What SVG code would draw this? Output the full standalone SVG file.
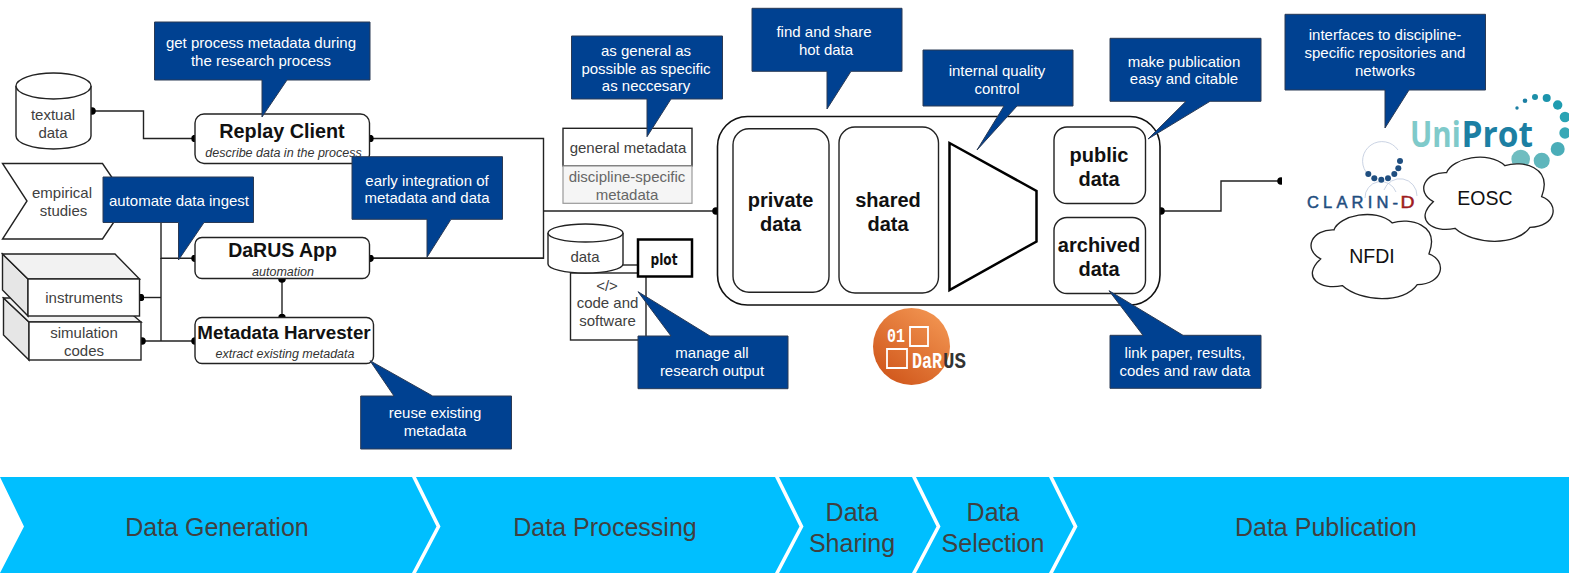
<svg xmlns="http://www.w3.org/2000/svg" xmlns:xlink="http://www.w3.org/1999/xlink" width="1569" height="573" viewBox="0 0 1569 573">
<style>
text{font-family:"Liberation Sans",Arial,sans-serif;text-anchor:middle}
.b{fill:#fff;stroke:#222;stroke-width:1.4}
.l{fill:#404040;font-size:15px}
.h{fill:#111;font-weight:bold}
.s{fill:#333;font-style:italic;font-size:12.5px}
.big{fill:#111;font-weight:bold;font-size:20px}
.c{fill:#004191;stroke:#2a3a55;stroke-width:1}
.ct{fill:#fff;font-size:15px}
.con{fill:none;stroke:#222;stroke-width:1.4}
.band{fill:#00bfff}
.bt{fill:#404040;font-size:25px}
.cl{fill:#fff;stroke:#222;stroke-width:4}
.logo{font-family:"Liberation Mono",monospace;font-weight:bold;text-anchor:start}
.up{font-family:"Open Sans","Liberation Sans",sans-serif;font-weight:bold;font-size:36px;text-anchor:start}
.cd{font-size:16.5px;text-anchor:start;stroke-width:.5}
</style>
<defs>
<marker id="dot" viewBox="0 0 8 8" refX="4" refY="4" markerWidth="7.5" markerHeight="7.5" markerUnits="userSpaceOnUse"><circle cx="4" cy="4" r="4" fill="#000"/></marker>
<linearGradient id="og" x1="0.8" y1="0.1" x2="0.2" y2="0.9"><stop offset="0" stop-color="#f0914e"/><stop offset="1" stop-color="#d25a1e"/></linearGradient>
<path id="cloud" d="M1000,605C945,575 975,515 1040,518C1055,475 1165,450 1215,497C1265,480 1360,500 1325,590C1380,610 1370,680 1290,682C1250,740 1120,735 1065,685C1000,700 940,660 1000,605Z"/>
</defs>
<rect width="1569" height="573" fill="#fff"/>

<g id="connectors">
<path class="con" marker-start="url(#dot)" marker-end="url(#dot)" d="M92,111H143.500V138.500H195"/>
<path class="con" marker-start="url(#dot)" d="M370,138.500H543.500V258.300H370"/>
<path class="con" marker-start="url(#dot)" d="M370,258.300H543.500"/>
<path class="con" marker-end="url(#dot)" d="M543.500,211H716"/>
<path class="con" marker-end="url(#dot)" d="M161,222V258.300H195"/>
<path class="con" marker-start="url(#dot)" d="M140.500,297.500H161"/>
<path class="con" d="M161,258V341"/>
<path class="con" marker-start="url(#dot)" marker-end="url(#dot)" d="M142,341H195"/>
<path class="con" marker-start="url(#dot)" marker-end="url(#dot)" d="M282,279V317.500"/>
<path class="con" marker-start="url(#dot)" marker-end="url(#dot)" d="M1161,211H1221V181H1281"/>
<path class="con" d="M623,265H638"/>
</g>

<g id="textual-data">
<path class="b" d="M16,86V136A37.500,13 0 0 0 91,136V86"/>
<ellipse class="b" cx="53.500" cy="86" rx="37.500" ry="13"/>
<text class="l" x="53" y="120">textual</text><text class="l" x="53" y="137.500">data</text>
</g>
<g id="empirical-studies">
<path class="b" d="M2.500,163.500H102.500L128,201L102.500,239H2.500L27,201Z"/>
<text class="l" x="62" y="198">empirical</text><text class="l" x="63.500" y="215.500">studies</text>
</g>
<g id="simulation-codes">
<path d="M3.500,298L29,322V360L3.500,335Z" fill="#e6e6e6" stroke="#222" stroke-width="1.400"/>
<path d="M3.500,298H113L141,322H29Z" fill="#f2f2f2" stroke="#222" stroke-width="1.400"/>
<rect class="b" x="29" y="322" width="112" height="38"/>
<text class="l" x="84" y="338">simulation</text><text class="l" x="84" y="356">codes</text>
</g>
<g id="instruments">
<path d="M2.500,254L28,279V316L2.500,290Z" fill="#e6e6e6" stroke="#222" stroke-width="1.400"/>
<path d="M2.500,254H115L139.500,279H28Z" fill="#f2f2f2" stroke="#222" stroke-width="1.400"/>
<rect class="b" x="28" y="279" width="111.500" height="37"/>
<text class="l" x="84" y="303">instruments</text>
</g>
<g id="replay-client">
<rect class="b" x="195" y="114" width="174.500" height="49.500" rx="9"/>
<text class="h" x="282" y="138" font-size="19.800">Replay Client</text>
<text class="s" x="283.500" y="156.500">describe data in the process</text>
</g>
<g id="darus-app">
<rect class="b" x="195" y="237.500" width="174.500" height="41" rx="7"/>
<text class="h" x="282.500" y="257" font-size="19.500">DaRUS App</text>
<text class="s" x="283" y="275.500">automation</text>
</g>
<g id="metadata-harvester">
<rect class="b" x="195" y="317.500" width="178.500" height="46" rx="7"/>
<text class="h" x="284" y="339" font-size="18.800">Metadata Harvester</text>
<text class="s" x="285" y="358">extract existing metadata</text>
</g>
<g id="metadata">
<rect class="b" x="563" y="128.300" width="129" height="37.700"/>
<rect x="563" y="166" width="129" height="37.300" fill="#f5f5f5" stroke="#999" stroke-width="1.200"/>
<text class="l" x="628" y="153">general metadata</text>
<text x="627" y="182" font-size="15" fill="#666">discipline-specific</text>
<text x="627" y="200" font-size="15" fill="#666">metadata</text>
</g>
<g id="code-software">
<rect class="b" x="570.500" y="273" width="75.500" height="67"/>
<text class="l" x="607" y="291">&lt;/&gt;</text><text class="l" x="607.500" y="308">code and</text><text class="l" x="607.500" y="326">software</text>
</g>
<g id="data">
<path class="b" d="M548,233V264A37.500,9 0 0 0 623,264V233"/>
<ellipse class="b" cx="585.500" cy="233" rx="37.500" ry="9"/>
<text class="l" x="585" y="262">data</text>
</g>
<g id="plot">
<rect x="638" y="239.500" width="54" height="37" fill="#fff" stroke="#000" stroke-width="2.500"/>
<text x="664" y="265" font-size="15" font-weight="bold" fill="#111" style="font-family:'DejaVu Sans',sans-serif" textLength="27" lengthAdjust="spacingAndGlyphs">plot</text>
</g>
<g id="repository">
<rect x="717.500" y="116.500" width="442.500" height="188.500" rx="30" fill="#fff" stroke="#111" stroke-width="1.600"/>
</g>
<g id="private-data">
<rect class="b" x="733" y="128.700" width="96" height="163.600" rx="16"/>
<text class="big" x="780.500" y="207">private</text><text class="big" x="780.500" y="231">data</text>
</g>
<g id="shared-data">
<rect class="b" x="839" y="127" width="99.500" height="166" rx="16"/>
<text class="big" x="888" y="207">shared</text><text class="big" x="888" y="231">data</text>
</g>
<g id="quality-gate"><path d="M949.500,143L1036.500,191V241.500L949.500,290Z" fill="#fff" stroke="#000" stroke-width="2.500"/></g>
<g id="public-data">
<rect class="b" x="1054" y="127" width="91.500" height="76.500" rx="13"/>
<text class="big" x="1099" y="162">public</text><text class="big" x="1099" y="186">data</text>
</g>
<g id="archived-data">
<rect class="b" x="1054" y="217.500" width="91.500" height="76" rx="13"/>
<text class="big" x="1099" y="252">archived</text><text class="big" x="1099" y="276">data</text>
</g>
<g id="darus-logo">
<circle cx="911.500" cy="346.500" r="38.500" fill="url(#og)"/>
<path d="M910,327H928V346H910ZM887,349H907V368H887Z" fill="none" stroke="#fff" stroke-width="1.800"/>
<text class="logo" font-size="20" fill="#fff" transform="translate(887 342) scale(.75 1)">01</text>
<text class="logo" font-size="22" fill="#fff" transform="translate(912 368) scale(.76 1)">DaR</text>
<text class="logo" font-size="22" fill="#333" transform="translate(943 368) scale(.87 1)">US</text>
</g>
<g id="uniprot-logo">
<text class="up" fill="#7fcaca" transform="translate(1410 146.500) scale(.82 1)">Uni</text>
<text class="up" fill="#1c7fa3" transform="translate(1461.500 146.500) scale(.93 1)">Prot</text>
<g>
<circle cx="1517" cy="108" r="1.700" fill="#1c7fa3"/><circle cx="1525" cy="100.700" r="2.300" fill="#1c7fa3"/><circle cx="1535" cy="97" r="3" fill="#1c8fa8"/><circle cx="1546.700" cy="98" r="4" fill="#1c94ac"/><circle cx="1557.700" cy="105" r="4.700" fill="#1f9cb0"/><circle cx="1565" cy="117" r="5.300" fill="#2aa4b4"/><circle cx="1565" cy="133" r="5.700" fill="#38a8b6"/><circle cx="1557.700" cy="149" r="7" fill="#4aadb8"/><circle cx="1541.700" cy="160.700" r="8" fill="#5fb6bc"/><circle cx="1520.700" cy="159" r="9.300" fill="#6fbdc0"/>
</g>
</g>
<g id="clarin-logo">
<rect x="1282" y="150" width="125" height="90" fill="#fff"/>
<g fill="none" stroke="#bcc8dc" stroke-width="0.800"><path d="M1366,172A19,19 0 0 1 1398,150"/><path d="M1365,198A16,16 0 0 1 1396,192"/><path d="M1384,190A17,17 0 0 1 1417,196"/></g>
<g fill="#1f4e80"><circle cx="1400" cy="161" r="3"/><circle cx="1398.300" cy="168.300" r="3"/><circle cx="1394.300" cy="174" r="3"/><circle cx="1388" cy="178.300" r="3"/><circle cx="1381.300" cy="179.700" r="3"/><circle cx="1374.300" cy="178.300" r="3"/><circle cx="1368.300" cy="174" r="3"/></g>
<text class="cd" x="1307" y="208.300" textLength="91" lengthAdjust="spacing" fill="#1f4e80" stroke="#1f4e80">CLARIN-</text>
<text class="cd" x="1400.500" y="208.300" fill="#9e1b20" stroke="#9e1b20" textLength="14" lengthAdjust="spacingAndGlyphs">D</text>
</g>
<g id="eosc">
<use xlink:href="#cloud" href="#cloud" class="cl" transform="translate(1100 0) scale(.3333)"/>
<text x="1485" y="205" font-size="19.500" fill="#111">EOSC</text>
</g>
<g id="nfdi">
<use xlink:href="#cloud" href="#cloud" class="cl" transform="translate(987.300 57.300) scale(.3333)"/>
<text x="1372" y="263" font-size="19.500" fill="#111">NFDI</text>
</g>

<g id="callouts">
<g><path class="c" d="M154.500,22H370V80H287L262,117V80H154.500Z"/><text class="ct" x="261" y="48">get process metadata during</text><text class="ct" x="261" y="65.500">the research process</text></g>
<g><path class="c" d="M103,177H253.500V222.500H204L178.500,260V222.500H103Z"/><text class="ct" x="179" y="205.500">automate data ingest</text></g>
<g><path class="c" d="M352,156.700H502.500V219.300H451L427,257.300V219.300H352Z"/><text class="ct" x="427" y="185.500">early integration of</text><text class="ct" x="427" y="203">metadata and data</text></g>
<g><path class="c" d="M360.700,396H394L370,360.700L432.700,396H511.500V449H360.700Z"/><text class="ct" x="435" y="418">reuse existing</text><text class="ct" x="435" y="436">metadata</text></g>
<g><path class="c" d="M571.500,36H722.500V99H671L647,136.700V99H571.500Z"/><text class="ct" x="646" y="56">as general as</text><text class="ct" x="646" y="73.500">possible as specific</text><text class="ct" x="646" y="91">as neccesary</text></g>
<g><path class="c" d="M752,8.300H902V71.300H851L827,109V71.300H752Z"/><text class="ct" x="824" y="37">find and share</text><text class="ct" x="826" y="54.500">hot data</text></g>
<g><path class="c" d="M923,50H1073V106H1017L977,150L1004,106H923Z"/><text class="ct" x="997" y="76">internal quality</text><text class="ct" x="997" y="93.500">control</text></g>
<g><path class="c" d="M638,336H671L638,291.700L710,336H788V388.700H638Z"/><text class="ct" x="712" y="358">manage all</text><text class="ct" x="712" y="375.500">research output</text></g>
<g><path class="c" d="M1110,38.300H1261V101.300H1210L1148,139L1186,101.300H1110Z"/><text class="ct" x="1184" y="67">make publication</text><text class="ct" x="1184" y="84">easy and citable</text></g>
<g><path class="c" d="M1110,335.300H1143L1109,290.700L1183,335.300H1261V388.300H1110Z"/><text class="ct" x="1185" y="358">link paper, results,</text><text class="ct" x="1185" y="375.500">codes and raw data</text></g>
<g><path class="c" d="M1285,14.300H1485.500V90H1409L1385,128V90H1285Z"/><text class="ct" x="1385" y="40">interfaces to discipline-</text><text class="ct" x="1385" y="57.500">specific repositories and</text><text class="ct" x="1385" y="75.500">networks</text></g>
</g>

<g id="stage-generation"><path class="band" d="M0,477H412L436.500,526.500L412,573H0L24,526.500Z"/><text class="bt" x="217" y="536">Data Generation</text></g>
<g id="stage-processing"><path class="band" d="M416,477H775L799.500,526.500L775,573H416L440.500,526.500Z"/><text class="bt" x="605" y="536">Data Processing</text></g>
<g id="stage-sharing"><path class="band" d="M779,477H912L936.500,526.500L912,573H779L803.500,526.500Z"/><text class="bt" x="852" y="521">Data</text><text class="bt" x="852" y="552">Sharing</text></g>
<g id="stage-selection"><path class="band" d="M916,477H1049L1073.500,526.500L1049,573H916L940.500,526.500Z"/><text class="bt" x="993" y="521">Data</text><text class="bt" x="993" y="552">Selection</text></g>
<g id="stage-publication"><path class="band" d="M1053,477H1569V573H1053L1077.500,526.500Z"/><text class="bt" x="1326" y="536">Data Publication</text></g>
</svg>
